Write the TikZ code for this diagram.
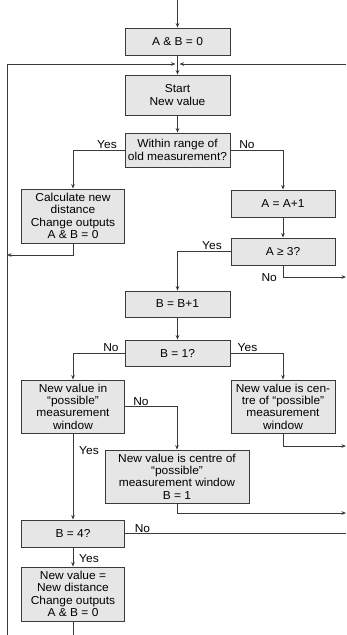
\documentclass[tikz,border=0pt]{standalone}
\usepackage{fontspec}
\setmainfont{Liberation Sans}[FakeStretch=1.04]
\usetikzlibrary{arrows.meta}
\definecolor{boxfill}{HTML}{E6E6E6}
\definecolor{linecol}{HTML}{3A3A3A}
\tikzset{
  box/.style={draw=linecol, fill=boxfill, line width=0.8pt, rectangle, align=center, inner sep=1pt,
    font=\fontsize{11.5}{12.4}\selectfont},
  conn/.style={draw=linecol, line width=0.8pt},
  arr/.style={conn, -{Stealth[length=4.5pt,width=3.6pt]}},
  lbl/.style={font=\fontsize{11.5}{12.4}\selectfont, inner sep=1pt}
}
\begin{document}
\begin{tikzpicture}[x=1pt,y=-1pt]
\useasboundingbox (0,0) rectangle (346,635);
% boxes
\node[box, minimum width=105pt, minimum height=27pt] (ab) at (177.5,41.5) {A \& B = 0};
\node[box, minimum width=105pt, minimum height=40pt] (start) at (177.5,95) {Start\\New value};
\node[box, minimum width=105pt, minimum height=34pt] (within) at (177.5,150) {Within range of\\old measurement?};
\node[box, minimum width=103pt, minimum height=54pt] (calc) at (73,216) {Calculate new\\distance\\Change outputs\\A \& B = 0};
\node[box, minimum width=104pt, minimum height=27pt] (aplus) at (283,203.5) {A = A+1};
\node[box, minimum width=104pt, minimum height=27pt] (age) at (283,251.5) {A ≥ 3?};
\node[box, minimum width=105pt, minimum height=26pt] (bplus) at (177.5,304) {B = B+1};
\node[box, minimum width=105pt, minimum height=26pt] (bone) at (177.5,353) {B = 1?};
\node[box, minimum width=103pt, minimum height=53pt] (nvin) at (73,406.5) {New value in\\“possible”\\measurement\\window};
\node[box, minimum width=104pt, minimum height=53pt] (rc) at (283,406.5) {New value is cen-\\tre of “possible”\\measurement\\window};
\node[box, minimum width=144pt, minimum height=53pt] (cc) at (177,476.5) {New value is centre of\\“possible”\\measurement window\\B = 1};
\node[box, minimum width=103pt, minimum height=27pt] (bfour) at (73,533.5) {B = 4?};
\node[box, minimum width=103pt, minimum height=54pt] (fin) at (73,594) {New value =\\New distance\\Change outputs\\A \& B = 0};
% free ends
\coordinate (top) at (177.5,0);
\coordinate (lb) at (7,635);
\coordinate (lt) at (7,64);
\coordinate (jl) at (175.5,64);
\coordinate (jr) at (179.5,64);
\coordinate (rt) at (346,64);
\coordinate (calcout) at (7,255);
\coordinate (ageout) at (346,277);
\coordinate (rcout) at (346,446);
\coordinate (ccout) at (346,513);
\coordinate (b4out) at (346,533.5);
\coordinate (finout) at (73,635);
% connectors
\draw[arr] (top) -- (ab.north);
\draw[arr] (ab.south) -- (start.north);
\draw[arr] (lb) -- (lt) -- (jl);
\draw[arr] (rt) -- (jr);
\draw[arr] (start.south) -- (within.north);
\draw[arr] (within.west) -| (calc.north);
\draw[arr] (within.east) -| (aplus.north);
\draw[arr] (calc.south) |- (calcout);
\draw[arr] (aplus.south) -- (age.north);
\draw[arr] (age.west) -| (bplus.north);
\draw[arr] (age.south) |- (ageout);
\draw[arr] (bplus.south) -- (bone.north);
\draw[arr] (bone.west) -| (nvin.north);
\draw[arr] (bone.east) -| (rc.north);
\draw[arr] (nvin.east) -| (cc.north);
\draw[arr] (nvin.south) -- (bfour.north);
\draw[arr] (rc.south) |- (rcout);
\draw[arr] (cc.south) |- (ccout);
\draw[conn] (bfour.east) -- (b4out);
\draw[arr] (bfour.south) -- (fin.north);
\draw[conn] (fin.south) -- (finout);
% labels
\node[lbl, anchor=south] (l1) at (107,150) {Yes};
\node[lbl, anchor=south] (l2) at (247,150) {No};
\node[lbl, anchor=south] (l3) at (212,250.5) {Yes};
\node[lbl, anchor=east] (l4) at (278,277.5) {No};
\node[lbl, anchor=south] (l5) at (111,353) {No};
\node[lbl, anchor=south] (l6) at (247.5,353) {Yes};
\node[lbl, anchor=south] (l7) at (141,407) {No};
\node[lbl, anchor=south] (l8) at (89,456) {Yes};
\node[lbl, anchor=south] (l9) at (142.5,534) {No};
\node[lbl, anchor=south] (l10) at (89,564) {Yes};
\end{tikzpicture}
\end{document}
